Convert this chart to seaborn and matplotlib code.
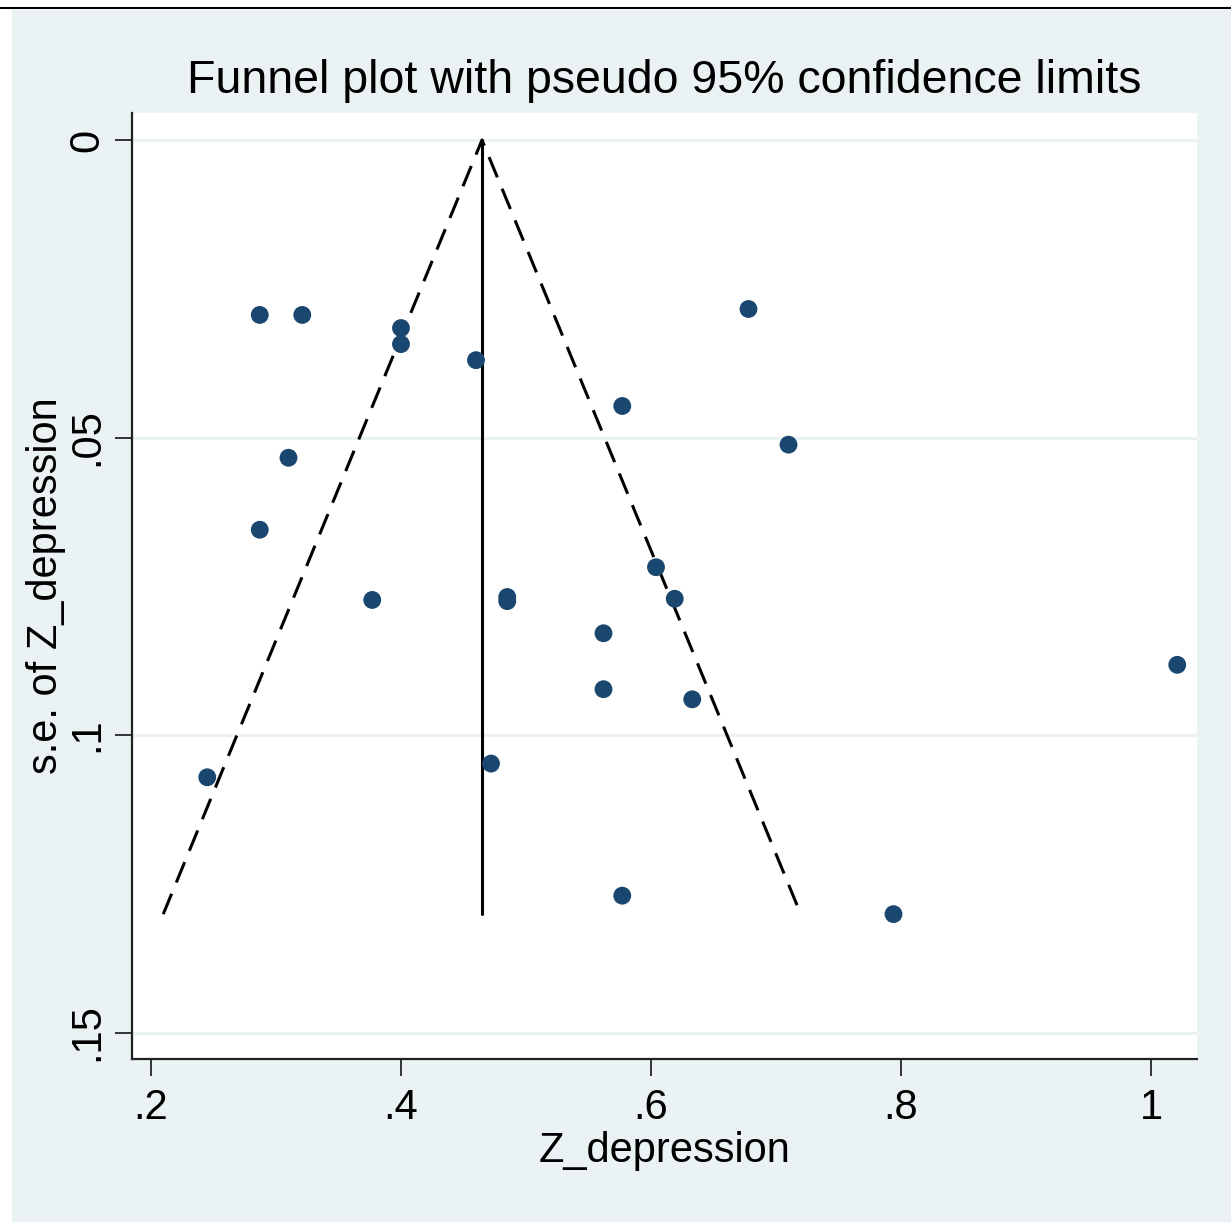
import matplotlib
matplotlib.use("Agg")
import matplotlib.pyplot as plt
from matplotlib.patches import Rectangle
from matplotlib.lines import Line2D
import seaborn as sns
import pandas as pd
import numpy as np

# Data
effect = [0.287, 0.321, 0.400, 0.400, 0.460, 0.678, 0.577, 0.710, 0.310, 0.287,
          0.604, 0.377, 0.485, 0.485, 0.619, 0.562, 1.021, 0.562, 0.633, 0.245,
          0.472, 0.577, 0.794]
se = [0.0294, 0.0294, 0.0316, 0.0343, 0.0370, 0.0284, 0.0447, 0.0512, 0.0534, 0.0655,
      0.0718, 0.0773, 0.0768, 0.0775, 0.0771, 0.0829, 0.0882, 0.0923, 0.0940, 0.1071,
      0.1048, 0.1270, 0.1301]
pooled = 0.4648
xticks = [0.2, 0.4, 0.6, 0.8, 1.0]
xticklabels = [".2", ".4", ".6", ".8", "1"]
yticks = [0, 0.05, 0.10, 0.15]
yticklabels = ["0", ".05", ".1", ".15"]
title = "Funnel plot with pseudo 95% confidence limits"
xlabel = "Z_depression"
ylabel = "s.e. of Z_depression"

df = pd.DataFrame({"effect": effect, "se": se})

sns.set_theme(style="white")
plt.rcParams['font.family'] = ['Liberation Sans', 'DejaVu Sans']
plt.rcParams['text.color'] = 'black'
plt.rcParams['axes.labelcolor'] = 'black'
plt.rcParams['xtick.color'] = 'black'
plt.rcParams['ytick.color'] = 'black'

W, H = 1231, 1222
fig = plt.figure(figsize=(W / 100, H / 100), dpi=100)
fig.patch.set_facecolor("white")
bg = "#EAF2F3"
fig.add_artist(Rectangle((12 / W, 0), 1 - 12 / W, 1 - 10 / H, transform=fig.transFigure,
                         facecolor=bg, edgecolor="none", zorder=-10))
fig.add_artist(Line2D([0, 1], [1 - 8 / H, 1 - 8 / H], transform=fig.transFigure,
                      color="black", lw=1.5))

ax = fig.add_axes([132 / W, 1 - 1059 / H, (1197 - 132) / W, (1059 - 113) / H])
ax.set_facecolor("white")

# grid lines
for t in yticks:
    ax.axhline(t, color=bg, lw=2.2, zorder=0)

semax = max(se)
z = 1.96
ax.plot([pooled - z * semax, pooled, pooled + z * semax], [semax, 0, semax],
        color="black", lw=2.2, linestyle=(0, (7.2, 4)), zorder=2)
ax.plot([pooled, pooled], [0, semax], color="black", lw=2.2, zorder=2)

sns.scatterplot(data=df, x="effect", y="se", ax=ax, s=165, color="#1a476f",
                edgecolor="none", linewidth=0, zorder=3, legend=False)

ax.set_xlim(0.1848, 1.0368)
ax.set_ylim(0.15445, -0.00454)
ax.set_xticks(xticks)
ax.set_xticklabels(xticklabels)
ax.set_yticks(yticks)
ax.set_yticklabels(yticklabels, rotation=90, va="center")

for s in ["top", "right"]:
    ax.spines[s].set_visible(False)
for s in ["left", "bottom"]:
    ax.spines[s].set_color("#222222")
    ax.spines[s].set_linewidth(1.6)

ax.tick_params(axis="both", which="major", direction="out", length=12, width=1.4,
               color="#333333", labelsize=30, pad=9, bottom=True, left=True)
ax.tick_params(axis="y", pad=6)

ax.set_xlabel(xlabel, fontsize=30, labelpad=2)
ax.set_ylabel(ylabel, fontsize=30, labelpad=1)
fig.text(664 / W, 1 - 81 / H, title, ha="center", va="center", fontsize=33.5)

fig.savefig("out.png", dpi=100)
